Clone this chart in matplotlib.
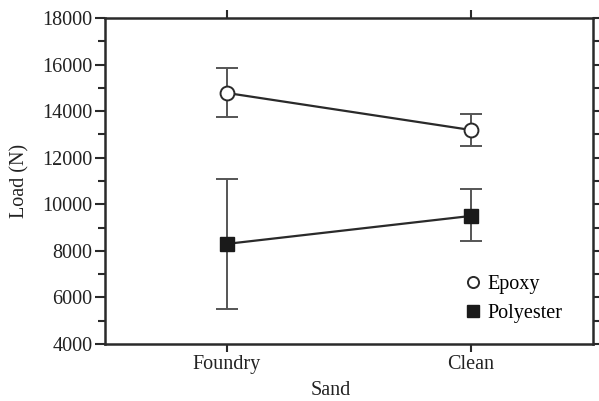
import numpy as np
import matplotlib
matplotlib.use("Agg")
import matplotlib.pyplot as plt
from matplotlib.ticker import MultipleLocator

plt.rcParams["font.family"] = ["Liberation Serif", "DejaVu Serif"]

sands = ["Foundry", "Clean"]
epoxy = [14780, 13190]
epoxy_lo = [13750, 12510]
epoxy_hi = [15850, 13880]
poly = [8300, 9500]
poly_lo = [5510, 8430]
poly_hi = [11090, 10670]

x = np.arange(len(sands))
fig = plt.figure(figsize=(5.99, 4.01), dpi=100)
ax = fig.add_axes([105/599, 1 - 344/401, 488/599, 326/401])

ink = "#2a2a2a"
ebc = "#555555"

e = np.array(epoxy)
p = np.array(poly)
ax.errorbar(x, e, yerr=[e - np.array(epoxy_lo), np.array(epoxy_hi) - e],
            fmt="none", ecolor=ebc, elinewidth=1.4, capsize=8, capthick=1.4, zorder=2)
ax.errorbar(x, p, yerr=[p - np.array(poly_lo), np.array(poly_hi) - p],
            fmt="none", ecolor=ebc, elinewidth=1.4, capsize=8, capthick=1.4, zorder=2)
ax.plot(x, e, "-o", color=ink, lw=1.6, ms=10, mfc="white", mec=ink, mew=1.4,
        zorder=3, label="Epoxy")
ax.plot(x, p, "-s", color=ink, lw=1.6, ms=10, mfc="#1a1a1a", mec="#1a1a1a",
        zorder=3, label="Polyester")

ax.set_xlim(-0.5, 1.5)
ax.set_ylim(4000, 18000)
ax.set_xticks(x)
ax.set_xticklabels(sands)
ax.yaxis.set_major_locator(MultipleLocator(2000))
ax.yaxis.set_minor_locator(MultipleLocator(1000))

for s in ax.spines.values():
    s.set_linewidth(1.8)
    s.set_color(ink)

ax.tick_params(axis="both", which="both", direction="out", color=ink,
               labelsize=14.5, labelcolor="#222222")
ax.tick_params(axis="y", which="major", length=7, width=1.5, right=True, pad=2)
ax.tick_params(axis="y", which="minor", length=5, width=1.5, right=True)
ax.tick_params(axis="x", which="major", length=6, width=1.5, top=True, pad=2)

ax.set_xlabel("Sand", fontsize=14.5, color="#222222")
ax.xaxis.set_label_coords((331 - 105) / 488, -0.115)
ax.set_ylabel("Load (N)", fontsize=14.5, color="#222222")
ax.yaxis.set_label_coords(-0.155, 0.5)

leg = ax.legend(loc="lower right", bbox_to_anchor=(0.975, 0.01), frameon=False,
                fontsize=14.5, handlelength=0.6, handletextpad=0.45,
                labelspacing=0.45)
for h in leg.get_lines():
    h.set_linestyle("none")
    h.set_markersize(8)

fig.savefig("out.png", dpi=100)
